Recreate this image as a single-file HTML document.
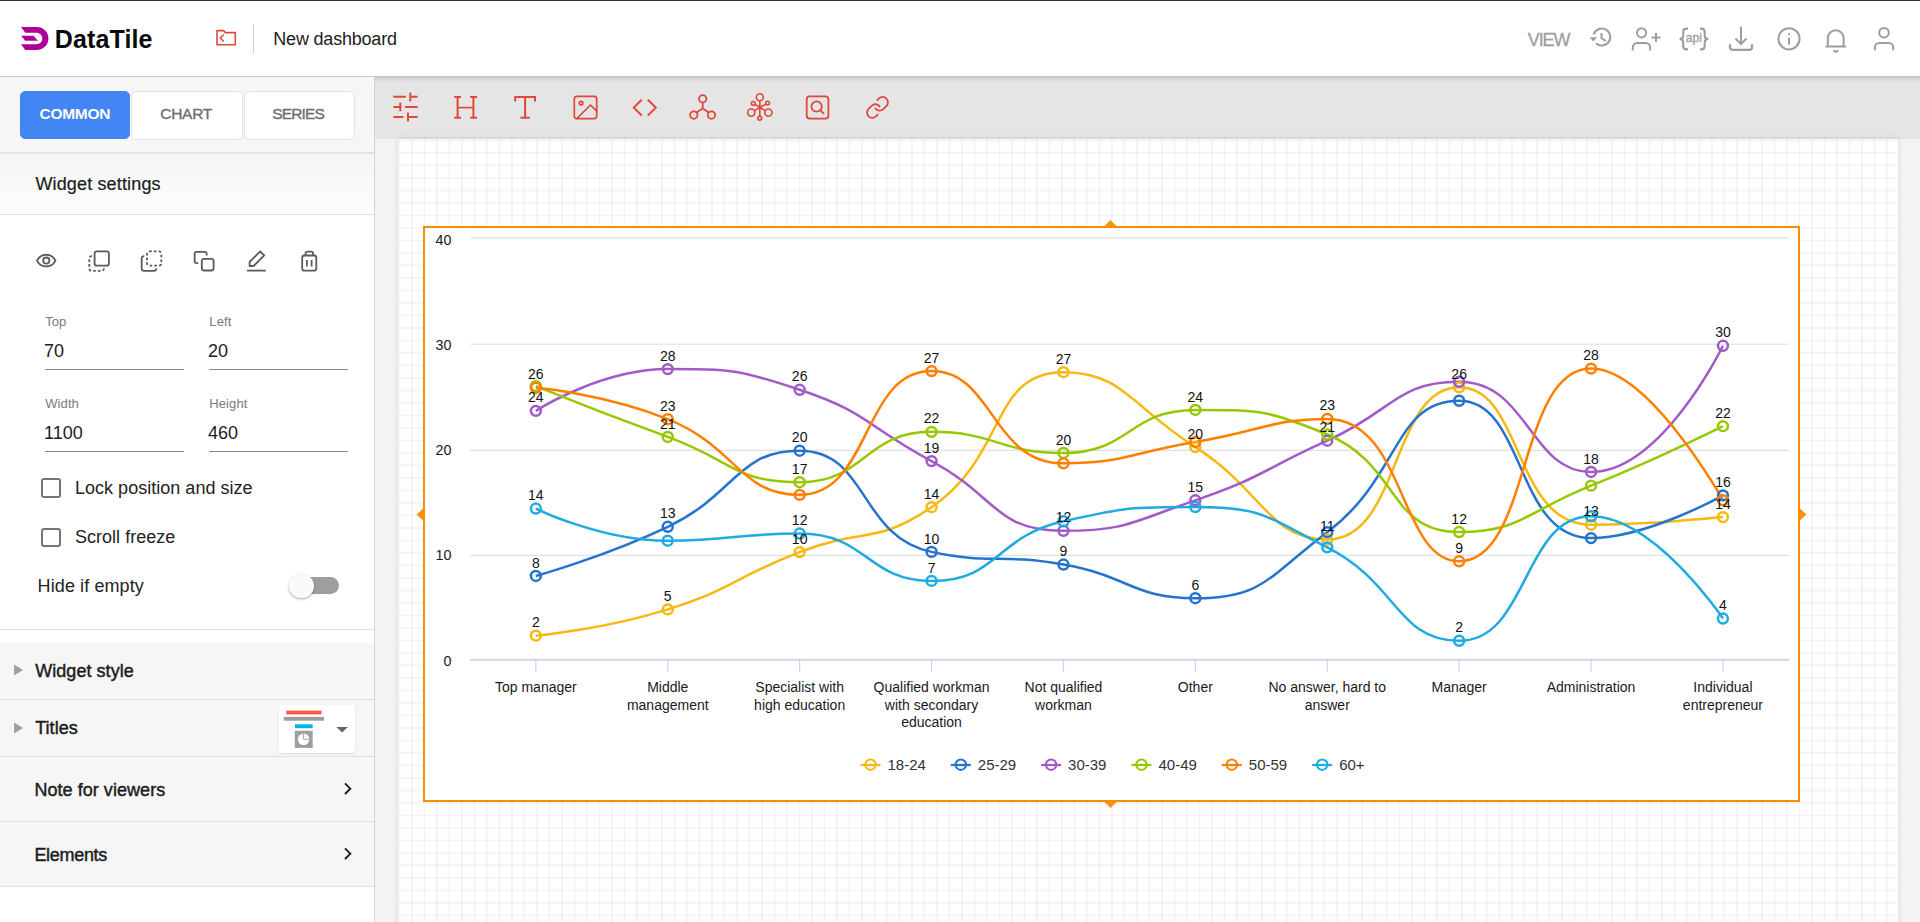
<!DOCTYPE html>
<html><head><meta charset="utf-8"><title>DataTile</title><style>
*{box-sizing:border-box;margin:0;padding:0}
html,body{width:1920px;height:922px;overflow:hidden;background:#fff;font-family:"Liberation Sans",sans-serif}
.t{position:absolute;white-space:nowrap;line-height:1.15;z-index:6}
.btn{position:absolute;border:1px solid #e2e2e2;border-radius:5px;background:#fff;font-size:15px;text-align:center;line-height:46px;z-index:4}
svg text{font-family:"Liberation Sans",sans-serif}
.al{font-size:14.3px;fill:#1a1a1a}
.dl{font-size:14px;fill:#111}
.cl{font-size:14px;fill:#1a1a1a}
.lg{font-size:15px;fill:#333}
</style></head><body>

<div style="position:absolute;left:0;top:0;width:1920px;height:1px;background:#323332;z-index:5"></div>
<div id="hdr" style="position:absolute;left:0;top:1px;width:1920px;height:76px;background:#fff;border-bottom:1px solid #c4c4c4;z-index:4"></div>
<svg style="position:absolute;left:0;top:0;z-index:6" width="60" height="60" viewBox="0 0 60 60">
<path fill="#ae0094" d="M21 26.9H36.85A11.55 11.55 0 0 1 36.85 50H25.3L21 44.2H36.8A5.78 5.78 0 0 0 36.8 32.65H25.3Z"/>
<path fill="#ae0094" d="M21 35.7H33.5L37.9 40.85H25.3Z"/>
</svg>
<div class="t" style="left:54.8px;top:24.73px;font-size:25px;color:#0a0a0a;font-weight:bold;letter-spacing:0.12px">DataTile</div>
<svg style="position:absolute;left:210px;top:24px;z-index:6" width="32" height="28" viewBox="210 24 32 28">
<path fill="none" stroke="#e0483a" stroke-width="1.6" stroke-linejoin="round" d="M217 30.6H223.5L225.5 32.6H235.3V44.8H217Z"/>
<path fill="none" stroke="#e0483a" stroke-width="1.5" d="M223.8 34.5L220.3 38L223.8 41.5"/>
</svg>
<div style="position:absolute;left:253px;top:24px;width:1px;height:30px;background:#d0d0d0;z-index:6"></div>
<div class="t" style="left:273.3px;top:28.75px;font-size:18px;color:#222;font-weight:normal;letter-spacing:-0.2px">New dashboard</div>
<div class="t" style="left:1527.8px;top:29.75px;font-size:18px;color:#9e9e9e;font-weight:normal;letter-spacing:-1.1px;-webkit-text-stroke:0.3px #a0a0a0">VIEW</div>
<svg style="position:absolute;left:1580px;top:20px;z-index:6" width="330" height="40" viewBox="1580 20 330 40" fill="none" stroke="#9e9e9e" stroke-width="2">
<!-- history -->
<path d="M1593.7 34.4A8.5 8.5 0 1 1 1596 43.3"/>
<path fill="#9e9e9e" stroke="none" d="M1589.5 37.2H1597.2L1593.3 41.5Z"/>
<path d="M1601.5 33V38.3L1605.7 40.8"/>
<!-- person add -->
<circle cx="1641.6" cy="32.8" r="4.6"/>
<path d="M1632.8 50.6V47.5A4.5 4.5 0 0 1 1637.3 43H1645.6A4.5 4.5 0 0 1 1650.1 47.5V50.6"/>
<path d="M1651.5 37.5H1660.5M1656 33V42"/>
<!-- api -->
<path stroke-width="2.1" d="M1688 28.6H1686.6C1684.2 28.6 1683.2 29.8 1683.2 32V35.8C1683.2 38 1682 39 1679.6 39C1682 39 1683.2 40 1683.2 42.2V46.2C1683.2 48.4 1684.2 49.4 1686.6 49.4H1688"/>
<path stroke-width="2.1" d="M1699.9 28.6H1701.3C1703.7 28.6 1704.7 29.8 1704.7 32V35.8C1704.7 38 1705.9 39 1708.3 39C1705.9 39 1704.7 40 1704.7 42.2V46.2C1704.7 48.4 1703.7 49.4 1701.3 49.4H1699.9"/>
<text x="1685.8" y="41.8" fill="#9e9e9e" stroke="#9e9e9e" stroke-width="0.35" textLength="16" lengthAdjust="spacingAndGlyphs" style="font:13.2px 'Liberation Sans'">api</text>
<!-- download -->
<path d="M1741 26.4V43.8M1735.5 38.5L1741 44L1746.5 38.5"/>
<path stroke-width="2.3" d="M1730 44.2V47.4A2.4 2.4 0 0 0 1732.4 49.8H1749.6A2.4 2.4 0 0 0 1752 47.4V44.2"/>
<!-- info -->
<circle cx="1789" cy="38.8" r="10.6"/>
<path d="M1789 37.8V44.6M1789 33.2V35"/>
<!-- bell -->
<path d="M1825.5 46.5H1846M1827.8 46.5V38A7.9 7.9 0 0 1 1843.6 38V46.5"/>
<path fill="#9e9e9e" stroke="none" d="M1832.9 50.3H1838.8A2.95 2.4 0 0 1 1832.9 50.3Z"/>
<!-- person -->
<circle cx="1884" cy="32.7" r="4.8"/>
<path d="M1874.9 50.2V47.3A4.4 4.4 0 0 1 1879.3 42.9H1888.8A4.4 4.4 0 0 1 1893.2 47.3V50.2"/>
</svg>

<div style="position:absolute;left:0;top:77px;width:375px;height:845px;background:#fff;border-right:1px solid #d4d4d4;z-index:3"></div>
<div style="position:absolute;left:0;top:77px;width:374px;height:77px;background:#f6f6f6;border-bottom:2px solid #e4e4e4;z-index:3"></div>
<div class="btn" style="left:20px;top:91px;width:110px;height:48px;background:#4285f4;border-color:#4285f4"></div>
<div class="btn" style="left:130.5px;top:90.5px;width:112px;height:49px"></div>
<div class="btn" style="left:243.5px;top:90.5px;width:111px;height:49px"></div>
<div class="t" style="left:39.6px;top:104.69px;font-size:15.5px;color:#fff;font-weight:bold;letter-spacing:-0.3px">COMMON</div>
<div class="t" style="left:160.2px;top:104.69px;font-size:15.5px;color:#6e6e6e;font-weight:normal;letter-spacing:-0.25px;-webkit-text-stroke:0.35px #6e6e6e">CHART</div>
<div class="t" style="left:272.3px;top:104.69px;font-size:15.5px;color:#6e6e6e;font-weight:normal;letter-spacing:-0.85px;-webkit-text-stroke:0.35px #6e6e6e">SERIES</div>
<div style="position:absolute;left:0;top:154px;width:374px;height:61px;background:linear-gradient(#f5f5f5,#fdfdfd);border-bottom:1px solid #e0e0e0;z-index:3"></div>
<div class="t" style="left:35.4px;top:173.75px;font-size:18px;color:#1d1d1d;font-weight:normal;letter-spacing:0.15px;-webkit-text-stroke:0.2px #1d1d1d">Widget settings</div>
<svg style="position:absolute;left:0;top:240px;z-index:4" width="340" height="40" viewBox="0 240 340 40" fill="none" stroke="#5a5a5a" stroke-width="1.8">
<path d="M37 260.6C41 252.8 51.5 252.8 55.5 260.6C51.5 268.4 41 268.4 37 260.6Z"/>
<circle cx="46.3" cy="260.6" r="3.1"/>
<rect x="94.6" y="251.4" width="14.3" height="14.3" rx="2.2"/>
<path stroke-dasharray="2.6 2.1" d="M91.9 256.2A2.2 2.2 0 0 0 89.3 258.4V268.6A2.2 2.2 0 0 0 91.5 270.8H101.7A2.2 2.2 0 0 0 103.9 268.4"/>
<rect x="147" y="251.4" width="14.3" height="14.3" rx="2.2" stroke-dasharray="2.6 2.1"/>
<path d="M144.3 256.2A2.2 2.2 0 0 0 141.7 258.4V268.6A2.2 2.2 0 0 0 143.9 270.8H154.1A2.2 2.2 0 0 0 156.3 268.4"/>
<rect x="201.8" y="258.8" width="11.8" height="11.7" rx="2.2"/>
<path d="M206.7 255.5V253.8A2 2 0 0 0 204.7 251.8H196.65A2 2 0 0 0 194.65 253.8V261.1A2 2 0 0 0 196.65 263.1H198.2"/>
<path stroke-linejoin="round" d="M249.6 266L249.6 262L260.2 251.4L264.2 255.4L253.6 266Z"/>
<path d="M247 270.6H265.8"/>
<rect x="302.2" y="255.5" width="14.1" height="15.1" rx="2.2"/>
<path d="M305.5 255.5V253.7A2 2 0 0 1 307.5 251.7H311.1A2 2 0 0 1 313.1 253.7V255.5M306.9 259.9V266.4M311.6 259.9V266.4"/>
</svg>
<div class="t" style="left:45.2px;top:315.12px;font-size:13px;color:#7a7a7a;font-weight:normal;letter-spacing:0.1px">Top</div><div class="t" style="left:44.0px;top:340.75px;font-size:18px;color:#212121;font-weight:normal;">70</div><div style="position:absolute;left:44.900000000000006px;top:368.7px;width:139px;height:1px;background:#8a8a8a;z-index:4"></div>
<div class="t" style="left:209.3px;top:315.12px;font-size:13px;color:#7a7a7a;font-weight:normal;letter-spacing:0.1px">Left</div><div class="t" style="left:208.10000000000002px;top:340.75px;font-size:18px;color:#212121;font-weight:normal;">20</div><div style="position:absolute;left:209.0px;top:368.7px;width:139px;height:1px;background:#8a8a8a;z-index:4"></div>
<div class="t" style="left:45.2px;top:397.12px;font-size:13px;color:#7a7a7a;font-weight:normal;letter-spacing:0.1px">Width</div><div class="t" style="left:44.0px;top:422.75px;font-size:18px;color:#212121;font-weight:normal;">1100</div><div style="position:absolute;left:44.900000000000006px;top:450.7px;width:139px;height:1px;background:#8a8a8a;z-index:4"></div>
<div class="t" style="left:209.3px;top:397.12px;font-size:13px;color:#7a7a7a;font-weight:normal;letter-spacing:0.1px">Height</div><div class="t" style="left:208.10000000000002px;top:422.75px;font-size:18px;color:#212121;font-weight:normal;">460</div><div style="position:absolute;left:209.0px;top:450.7px;width:139px;height:1px;background:#8a8a8a;z-index:4"></div>
<div style="position:absolute;left:41.4px;top:478.2px;width:19.5px;height:19.5px;border:2px solid #757575;border-radius:3px;z-index:4"></div>
<div class="t" style="left:75px;top:477.75px;font-size:18px;color:#222;font-weight:normal;letter-spacing:0.02px">Lock position and size</div>
<div style="position:absolute;left:41.4px;top:527.6px;width:19.5px;height:19.5px;border:2px solid #757575;border-radius:3px;z-index:4"></div>
<div class="t" style="left:75px;top:526.75px;font-size:18px;color:#222;font-weight:normal;letter-spacing:0.02px">Scroll freeze</div>
<div class="t" style="left:37.6px;top:575.75px;font-size:18px;color:#222;font-weight:normal;letter-spacing:0.1px">Hide if empty</div>
<div style="position:absolute;left:299px;top:577.2px;width:40px;height:16.7px;border-radius:8.4px;background:#9e9e9e;z-index:4"></div>
<div style="position:absolute;left:288.9px;top:573.6px;width:24.7px;height:24.7px;border-radius:50%;background:#fafafa;box-shadow:0 1px 2.5px rgba(0,0,0,.35);z-index:4"></div>
<div style="position:absolute;left:0;top:629px;width:374px;height:1px;background:#e0e0e0;z-index:4"></div>
<div style="position:absolute;left:0;top:643px;width:374px;height:57px;background:#f6f6f6;border-bottom:1px solid #e0e0e0;z-index:3"></div>
<div class="t" style="left:35.2px;top:660.75px;font-size:18px;color:#1d1d1d;font-weight:normal;letter-spacing:0.05px;-webkit-text-stroke:0.45px #1d1d1d">Widget style</div>
<svg style="position:absolute;left:10px;top:662.1px;z-index:4" width="20" height="16"><path d="M4.1 2.5L13 8L4.1 13.5Z" fill="#9e9e9e"/></svg>
<div style="position:absolute;left:0;top:700px;width:374px;height:57px;background:#f6f6f6;border-bottom:1px solid #e0e0e0;z-index:3"></div>
<div class="t" style="left:35.2px;top:717.75px;font-size:18px;color:#1d1d1d;font-weight:normal;letter-spacing:0.05px;-webkit-text-stroke:0.45px #1d1d1d">Titles</div>
<svg style="position:absolute;left:10px;top:720.3px;z-index:4" width="20" height="16"><path d="M4.1 2.5L13 8L4.1 13.5Z" fill="#9e9e9e"/></svg>
<div style="position:absolute;left:0;top:757px;width:374px;height:65px;background:#f6f6f6;border-bottom:1px solid #e0e0e0;z-index:3"></div>
<div class="t" style="left:34.4px;top:779.75px;font-size:18px;color:#1d1d1d;font-weight:normal;letter-spacing:0.05px;-webkit-text-stroke:0.45px #1d1d1d">Note for viewers</div>
<svg style="position:absolute;left:337.8px;top:778.7px;z-index:4" width="20" height="20"><path d="M7 4.4L12.3 9.7L7 15" fill="none" stroke="#1e1e1e" stroke-width="1.9"/></svg>
<div style="position:absolute;left:0;top:822px;width:374px;height:65px;background:#f6f6f6;border-bottom:1px solid #e0e0e0;z-index:3"></div>
<div class="t" style="left:34.4px;top:844.75px;font-size:18px;color:#1d1d1d;font-weight:normal;letter-spacing:-0.3px;-webkit-text-stroke:0.45px #1d1d1d">Elements</div>
<svg style="position:absolute;left:337.8px;top:843.5px;z-index:4" width="20" height="20"><path d="M7 4.4L12.3 9.7L7 15" fill="none" stroke="#1e1e1e" stroke-width="1.9"/></svg>
<div style="position:absolute;left:278.7px;top:705.1px;width:76px;height:48.3px;background:#fff;border-radius:3px;box-shadow:0 1px 2px rgba(0,0,0,.12);z-index:4"></div>
<svg style="position:absolute;left:278px;top:704px;z-index:5" width="78" height="50" viewBox="278 704 78 50">
<rect x="286.3" y="710.6" width="35.2" height="3.8" fill="#fd5a45"/>
<rect x="283.8" y="716.9" width="40.2" height="3.8" fill="#9e9e9e"/>
<rect x="295" y="724.3" width="17.7" height="3.9" fill="#00b6e5"/>
<rect x="294.8" y="730.8" width="17.9" height="17.1" fill="#9e9e9e"/>
<circle cx="303.6" cy="739.3" r="5.8" fill="#fff"/>
<path d="M303.6 739.3V733.4M303.6 739.3H309.5" stroke="#9e9e9e" stroke-width="0.9" fill="none"/>
<path d="M336.4 727H347.9L342.15 732.6Z" fill="#666"/>
</svg>
<div style="position:absolute;left:375px;top:77px;width:1545px;height:62px;background:linear-gradient(#cbcbcb 0px,#d6d6d6 2px,#e0e0e0 4px,#e5e5e5 6px);z-index:1"></div>
<div style="position:absolute;left:375px;top:139px;width:1545px;height:783px;background:#f3f3f3;z-index:1"></div>
<div id="canvas" style="position:absolute;left:398px;top:139px;width:1500px;height:800px;background-color:#fff;background-image:linear-gradient(90deg,rgba(0,0,0,.041) 2px,transparent 2px),linear-gradient(rgba(0,0,0,.041) 2px,transparent 2px);background-size:12.5px 12.5px;background-position:0.5px 0.5px;box-shadow:0 0 6px rgba(0,0,0,.12);z-index:2"></div>
<svg style="position:absolute;left:380px;top:80px;z-index:3" width="520" height="56" viewBox="380 80 520 56" fill="none" stroke="#e0483a" stroke-width="2">
<g stroke-width="2">
<path d="M393.4 96.8H405.9M409.3 96.8H417.6M410.3 92.6V101.3"/>
<path d="M393.4 107H400.3M405 107H417.6M400.3 102.6V111.3"/>
<path d="M393.4 117H403.4M408 117H417.6M408 112.6V121.3"/>
</g>
<g stroke-width="2">
<path d="M454.3 97.1H460.9M470.1 97.1H477M454.3 117.8H460.9M470.1 117.8H477M457.6 97.1V117.8M473.4 97.1V117.8"/>
<path stroke-width="1.6" d="M457.6 107.6H473.4"/>
</g>
<g stroke-width="2">
<path d="M515.2 101.5V97.1H535V101.5M525.1 97.1V117.8M520.5 117.8H529.7"/>
</g>
<g stroke-width="1.7" stroke-linecap="round" stroke-linejoin="round">
<rect x="574.3" y="96.3" width="22.4" height="22.4" rx="2.6"/>
<circle cx="581.1" cy="103.1" r="1.8"/>
<path d="M596.7 111.2L590.5 105L576.8 118.7"/>
</g>
<g stroke-width="2">
<path d="M641.7 99.7L633.8 107.6L641.7 115.5M647.9 99.7L655.8 107.6L647.9 115.5"/>
</g>
<g stroke-width="1.8">
<circle cx="702.7" cy="98.8" r="3.7"/>
<circle cx="693.8" cy="115.1" r="3.7"/>
<circle cx="711.5" cy="115.1" r="3.7"/>
<path d="M702.7 102.5V108.4L696.6 112.6M702.7 108.4L708.8 112.6"/>
</g>
<g stroke-width="1.6">
<circle cx="759.8" cy="97.3" r="3.5"/>
<circle cx="759.8" cy="118.3" r="1.9"/>
<circle cx="753.3" cy="103.4" r="1.9"/>
<circle cx="767.6" cy="103.1" r="1.9"/>
<circle cx="751.2" cy="112.6" r="3.6"/>
<circle cx="768.4" cy="112.6" r="3.6"/>
<path d="M759.8 100.8V116.4M759.8 107.3L755 104.4M759.8 107.3L765.9 104.1M759.8 107.3L754.4 110.8M759.8 107.3L765.2 110.8"/>
</g>
<g stroke-width="1.8">
<rect x="806.7" y="96.4" width="21.7" height="22.2" rx="3"/>
<circle cx="816.6" cy="106.5" r="5.2"/>
<path d="M820.4 110.3L823.9 113.9"/>
</g>
<g stroke-width="1.7" stroke-linecap="round" stroke-linejoin="round" transform="translate(864.9 94.8) scale(1.05)">
<path d="M10 13a5 5 0 0 0 7.54.54l3-3a5 5 0 0 0-7.07-7.07l-1.72 1.71"/>
<path d="M14 11a5 5 0 0 0-7.54-.54l-3 3a5 5 0 0 0 7.07 7.07l1.71-1.71"/>
</g>
</svg>
<div style="position:absolute;left:423px;top:226px;width:1377px;height:576px;border:2px solid #f88d00;background:#fff;z-index:3"></div>
<svg style="position:absolute;left:0;top:0;z-index:4" width="1920" height="922" viewBox="0 0 1920 922">
<path d="M1104.5 226L1110.5 220L1116.5 226Z M1104.5 802L1110.5 808L1116.5 802Z M423 508.5L416.5 514.5L423 520.5Z M1800 508.5L1806.5 514.5L1800 520.5Z" fill="#f7950a"/>
<line x1="470.2" y1="237.90" x2="1789.2" y2="237.90" stroke="#e0e0e0" stroke-width="1.1"/>
<line x1="470.2" y1="344.30" x2="1789.2" y2="344.30" stroke="#e0e0e0" stroke-width="1.1"/>
<line x1="470.2" y1="450.40" x2="1789.2" y2="450.40" stroke="#e0e0e0" stroke-width="1.1"/>
<line x1="470.2" y1="555.40" x2="1789.2" y2="555.40" stroke="#e0e0e0" stroke-width="1.1"/>
<text x="451.4" y="666.00" text-anchor="end" class="al">0</text>
<text x="451.4" y="560.40" text-anchor="end" class="al">10</text>
<text x="451.4" y="455.00" text-anchor="end" class="al">20</text>
<text x="451.4" y="350.00" text-anchor="end" class="al">30</text>
<text x="451.4" y="245.10" text-anchor="end" class="al">40</text>
<path d="M535.85 635.65C535.85 635.65 604.01 629.57 667.75 609.39C735.91 587.80 732.66 578.06 799.65 552.11C864.56 526.96 875.53 545.39 931.55 507.18C1007.43 455.41 990.33 372.16 1063.45 372.16C1122.23 372.16 1131.36 406.55 1195.35 447.16C1263.26 490.25 1268.64 539.56 1327.25 539.56C1400.54 539.56 1391.35 387.35 1459.15 387.35C1523.25 387.35 1513.18 524.69 1591.05 524.69C1645.08 524.69 1722.95 517.09 1722.95 517.09" fill="none" stroke="#f7b812" stroke-width="2.5" stroke-linejoin="round"/>
<path d="M535.85 575.95C535.85 575.95 604.39 556.87 667.75 526.80C736.29 494.27 736.59 450.74 799.65 450.74C868.49 450.74 858.16 536.02 931.55 551.90C990.06 564.56 998.39 553.14 1063.45 564.56C1130.29 576.29 1132.05 598.21 1195.35 598.21C1263.95 598.21 1268.95 575.81 1327.25 532.17C1400.85 477.09 1393.94 400.75 1459.15 400.75C1525.84 400.75 1514.72 538.08 1591.05 538.08C1646.62 538.08 1722.95 495.36 1722.95 495.36" fill="none" stroke="#2473cf" stroke-width="2.5" stroke-linejoin="round"/>
<path d="M535.85 410.87C535.85 410.87 600.62 369.10 667.75 369.10C732.52 369.10 737.52 369.10 799.65 389.78C869.42 412.99 865.44 425.74 931.55 461.08C997.34 496.25 994.30 530.80 1063.45 530.80C1126.20 530.80 1131.60 522.09 1195.35 500.32C1263.50 477.05 1261.24 470.39 1327.25 440.72C1393.14 411.11 1396.52 381.76 1459.15 381.76C1528.42 381.76 1529.48 471.95 1591.05 471.95C1661.38 471.95 1722.95 345.79 1722.95 345.79" fill="none" stroke="#a15ac8" stroke-width="2.5" stroke-linejoin="round"/>
<path d="M535.85 386.08C535.85 386.08 601.35 412.74 667.75 436.93C733.25 460.79 734.11 482.18 799.65 482.18C866.01 482.18 863.78 431.86 931.55 431.86C995.68 431.86 998.75 452.96 1063.45 452.96C1130.65 452.96 1128.29 409.92 1195.35 409.92C1260.19 409.92 1267.91 409.92 1327.25 434.50C1399.81 464.55 1387.94 532.07 1459.15 532.07C1519.84 532.07 1526.23 511.68 1591.05 485.66C1658.13 458.73 1722.95 426.17 1722.95 426.17" fill="none" stroke="#96c800" stroke-width="2.5" stroke-linejoin="round"/>
<path d="M535.85 387.77C535.85 387.77 605.57 393.97 667.75 419.21C737.47 447.50 739.41 494.83 799.65 494.83C871.31 494.83 861.76 371.11 931.55 371.11C993.66 371.11 991.38 463.30 1063.45 463.30C1123.28 463.30 1129.47 453.08 1195.35 441.99C1261.37 430.88 1273.40 418.89 1327.25 418.89C1405.30 418.89 1399.28 561.29 1459.15 561.29C1531.18 561.29 1517.69 368.58 1591.05 368.58C1649.59 368.58 1722.95 500.21 1722.95 500.21" fill="none" stroke="#ff8000" stroke-width="2.5" stroke-linejoin="round"/>
<path d="M535.85 508.55C535.85 508.55 600.90 540.72 667.75 540.72C732.80 540.72 735.65 533.55 799.65 533.55C867.55 533.55 866.66 580.91 931.55 580.91C998.56 580.91 994.63 536.85 1063.45 521.31C1126.53 507.07 1130.68 507.07 1195.35 507.07C1262.58 507.07 1266.53 516.58 1327.25 547.36C1398.43 583.45 1397.00 640.82 1459.15 640.82C1528.90 640.82 1522.36 516.25 1591.05 516.25C1654.26 516.25 1722.95 618.56 1722.95 618.56" fill="none" stroke="#20aae2" stroke-width="2.5" stroke-linejoin="round"/>
<circle cx="535.85" cy="635.65" r="4.95" fill="none" stroke="#f7b812" stroke-width="2.5"/>
<circle cx="667.75" cy="609.39" r="4.95" fill="none" stroke="#f7b812" stroke-width="2.5"/>
<circle cx="799.65" cy="552.11" r="4.95" fill="none" stroke="#f7b812" stroke-width="2.5"/>
<circle cx="931.55" cy="507.18" r="4.95" fill="none" stroke="#f7b812" stroke-width="2.5"/>
<circle cx="1063.45" cy="372.16" r="4.95" fill="none" stroke="#f7b812" stroke-width="2.5"/>
<circle cx="1195.35" cy="447.16" r="4.95" fill="none" stroke="#f7b812" stroke-width="2.5"/>
<circle cx="1327.25" cy="539.56" r="4.95" fill="none" stroke="#f7b812" stroke-width="2.5"/>
<circle cx="1459.15" cy="387.35" r="4.95" fill="none" stroke="#f7b812" stroke-width="2.5"/>
<circle cx="1591.05" cy="524.69" r="4.95" fill="none" stroke="#f7b812" stroke-width="2.5"/>
<circle cx="1722.95" cy="517.09" r="4.95" fill="none" stroke="#f7b812" stroke-width="2.5"/>
<circle cx="535.85" cy="575.95" r="4.95" fill="none" stroke="#2473cf" stroke-width="2.5"/>
<circle cx="667.75" cy="526.80" r="4.95" fill="none" stroke="#2473cf" stroke-width="2.5"/>
<circle cx="799.65" cy="450.74" r="4.95" fill="none" stroke="#2473cf" stroke-width="2.5"/>
<circle cx="931.55" cy="551.90" r="4.95" fill="none" stroke="#2473cf" stroke-width="2.5"/>
<circle cx="1063.45" cy="564.56" r="4.95" fill="none" stroke="#2473cf" stroke-width="2.5"/>
<circle cx="1195.35" cy="598.21" r="4.95" fill="none" stroke="#2473cf" stroke-width="2.5"/>
<circle cx="1327.25" cy="532.17" r="4.95" fill="none" stroke="#2473cf" stroke-width="2.5"/>
<circle cx="1459.15" cy="400.75" r="4.95" fill="none" stroke="#2473cf" stroke-width="2.5"/>
<circle cx="1591.05" cy="538.08" r="4.95" fill="none" stroke="#2473cf" stroke-width="2.5"/>
<circle cx="1722.95" cy="495.36" r="4.95" fill="none" stroke="#2473cf" stroke-width="2.5"/>
<circle cx="535.85" cy="410.87" r="4.95" fill="none" stroke="#a15ac8" stroke-width="2.5"/>
<circle cx="667.75" cy="369.10" r="4.95" fill="none" stroke="#a15ac8" stroke-width="2.5"/>
<circle cx="799.65" cy="389.78" r="4.95" fill="none" stroke="#a15ac8" stroke-width="2.5"/>
<circle cx="931.55" cy="461.08" r="4.95" fill="none" stroke="#a15ac8" stroke-width="2.5"/>
<circle cx="1063.45" cy="530.80" r="4.95" fill="none" stroke="#a15ac8" stroke-width="2.5"/>
<circle cx="1195.35" cy="500.32" r="4.95" fill="none" stroke="#a15ac8" stroke-width="2.5"/>
<circle cx="1327.25" cy="440.72" r="4.95" fill="none" stroke="#a15ac8" stroke-width="2.5"/>
<circle cx="1459.15" cy="381.76" r="4.95" fill="none" stroke="#a15ac8" stroke-width="2.5"/>
<circle cx="1591.05" cy="471.95" r="4.95" fill="none" stroke="#a15ac8" stroke-width="2.5"/>
<circle cx="1722.95" cy="345.79" r="4.95" fill="none" stroke="#a15ac8" stroke-width="2.5"/>
<circle cx="535.85" cy="386.08" r="4.95" fill="none" stroke="#96c800" stroke-width="2.5"/>
<circle cx="667.75" cy="436.93" r="4.95" fill="none" stroke="#96c800" stroke-width="2.5"/>
<circle cx="799.65" cy="482.18" r="4.95" fill="none" stroke="#96c800" stroke-width="2.5"/>
<circle cx="931.55" cy="431.86" r="4.95" fill="none" stroke="#96c800" stroke-width="2.5"/>
<circle cx="1063.45" cy="452.96" r="4.95" fill="none" stroke="#96c800" stroke-width="2.5"/>
<circle cx="1195.35" cy="409.92" r="4.95" fill="none" stroke="#96c800" stroke-width="2.5"/>
<circle cx="1327.25" cy="434.50" r="4.95" fill="none" stroke="#96c800" stroke-width="2.5"/>
<circle cx="1459.15" cy="532.07" r="4.95" fill="none" stroke="#96c800" stroke-width="2.5"/>
<circle cx="1591.05" cy="485.66" r="4.95" fill="none" stroke="#96c800" stroke-width="2.5"/>
<circle cx="1722.95" cy="426.17" r="4.95" fill="none" stroke="#96c800" stroke-width="2.5"/>
<circle cx="535.85" cy="387.77" r="4.95" fill="none" stroke="#ff8000" stroke-width="2.5"/>
<circle cx="667.75" cy="419.21" r="4.95" fill="none" stroke="#ff8000" stroke-width="2.5"/>
<circle cx="799.65" cy="494.83" r="4.95" fill="none" stroke="#ff8000" stroke-width="2.5"/>
<circle cx="931.55" cy="371.11" r="4.95" fill="none" stroke="#ff8000" stroke-width="2.5"/>
<circle cx="1063.45" cy="463.30" r="4.95" fill="none" stroke="#ff8000" stroke-width="2.5"/>
<circle cx="1195.35" cy="441.99" r="4.95" fill="none" stroke="#ff8000" stroke-width="2.5"/>
<circle cx="1327.25" cy="418.89" r="4.95" fill="none" stroke="#ff8000" stroke-width="2.5"/>
<circle cx="1459.15" cy="561.29" r="4.95" fill="none" stroke="#ff8000" stroke-width="2.5"/>
<circle cx="1591.05" cy="368.58" r="4.95" fill="none" stroke="#ff8000" stroke-width="2.5"/>
<circle cx="1722.95" cy="500.21" r="4.95" fill="none" stroke="#ff8000" stroke-width="2.5"/>
<circle cx="535.85" cy="508.55" r="4.95" fill="none" stroke="#20aae2" stroke-width="2.5"/>
<circle cx="667.75" cy="540.72" r="4.95" fill="none" stroke="#20aae2" stroke-width="2.5"/>
<circle cx="799.65" cy="533.55" r="4.95" fill="none" stroke="#20aae2" stroke-width="2.5"/>
<circle cx="931.55" cy="580.91" r="4.95" fill="none" stroke="#20aae2" stroke-width="2.5"/>
<circle cx="1063.45" cy="521.31" r="4.95" fill="none" stroke="#20aae2" stroke-width="2.5"/>
<circle cx="1195.35" cy="507.07" r="4.95" fill="none" stroke="#20aae2" stroke-width="2.5"/>
<circle cx="1327.25" cy="547.36" r="4.95" fill="none" stroke="#20aae2" stroke-width="2.5"/>
<circle cx="1459.15" cy="640.82" r="4.95" fill="none" stroke="#20aae2" stroke-width="2.5"/>
<circle cx="1591.05" cy="516.25" r="4.95" fill="none" stroke="#20aae2" stroke-width="2.5"/>
<circle cx="1722.95" cy="618.56" r="4.95" fill="none" stroke="#20aae2" stroke-width="2.5"/>
<line x1="470.2" y1="659.70" x2="1789.2" y2="659.70" stroke="#ccd6eb" stroke-width="2"/>
<line x1="535.85" y1="659.70" x2="535.85" y2="672" stroke="#ccd6eb" stroke-width="1.25"/>
<line x1="667.75" y1="659.70" x2="667.75" y2="672" stroke="#ccd6eb" stroke-width="1.25"/>
<line x1="799.65" y1="659.70" x2="799.65" y2="672" stroke="#ccd6eb" stroke-width="1.25"/>
<line x1="931.55" y1="659.70" x2="931.55" y2="672" stroke="#ccd6eb" stroke-width="1.25"/>
<line x1="1063.45" y1="659.70" x2="1063.45" y2="672" stroke="#ccd6eb" stroke-width="1.25"/>
<line x1="1195.35" y1="659.70" x2="1195.35" y2="672" stroke="#ccd6eb" stroke-width="1.25"/>
<line x1="1327.25" y1="659.70" x2="1327.25" y2="672" stroke="#ccd6eb" stroke-width="1.25"/>
<line x1="1459.15" y1="659.70" x2="1459.15" y2="672" stroke="#ccd6eb" stroke-width="1.25"/>
<line x1="1591.05" y1="659.70" x2="1591.05" y2="672" stroke="#ccd6eb" stroke-width="1.25"/>
<line x1="1722.95" y1="659.70" x2="1722.95" y2="672" stroke="#ccd6eb" stroke-width="1.25"/>
<text x="535.85" y="627.25" text-anchor="middle" class="dl">2</text>
<text x="667.75" y="600.99" text-anchor="middle" class="dl">5</text>
<text x="799.65" y="543.71" text-anchor="middle" class="dl">10</text>
<text x="931.55" y="498.78" text-anchor="middle" class="dl">14</text>
<text x="1063.45" y="363.76" text-anchor="middle" class="dl">27</text>
<text x="1195.35" y="438.76" text-anchor="middle" class="dl">20</text>
<text x="1327.25" y="531.16" text-anchor="middle" class="dl">11</text>
<text x="1459.15" y="378.95" text-anchor="middle" class="dl">26</text>
<text x="1591.05" y="516.29" text-anchor="middle" class="dl">13</text>
<text x="1722.95" y="508.69" text-anchor="middle" class="dl">14</text>
<text x="535.85" y="567.55" text-anchor="middle" class="dl">8</text>
<text x="667.75" y="518.40" text-anchor="middle" class="dl">13</text>
<text x="799.65" y="442.34" text-anchor="middle" class="dl">20</text>
<text x="931.55" y="543.50" text-anchor="middle" class="dl">10</text>
<text x="1063.45" y="556.16" text-anchor="middle" class="dl">9</text>
<text x="1195.35" y="589.81" text-anchor="middle" class="dl">6</text>
<text x="1722.95" y="486.96" text-anchor="middle" class="dl">16</text>
<text x="535.85" y="402.47" text-anchor="middle" class="dl">24</text>
<text x="667.75" y="360.70" text-anchor="middle" class="dl">28</text>
<text x="799.65" y="381.38" text-anchor="middle" class="dl">26</text>
<text x="931.55" y="452.68" text-anchor="middle" class="dl">19</text>
<text x="1063.45" y="522.40" text-anchor="middle" class="dl">12</text>
<text x="1195.35" y="491.92" text-anchor="middle" class="dl">15</text>
<text x="1327.25" y="432.32" text-anchor="middle" class="dl">21</text>
<text x="1591.05" y="463.55" text-anchor="middle" class="dl">18</text>
<text x="1722.95" y="337.39" text-anchor="middle" class="dl">30</text>
<text x="667.75" y="428.53" text-anchor="middle" class="dl">21</text>
<text x="799.65" y="473.78" text-anchor="middle" class="dl">17</text>
<text x="931.55" y="423.46" text-anchor="middle" class="dl">22</text>
<text x="1063.45" y="444.56" text-anchor="middle" class="dl">20</text>
<text x="1195.35" y="401.52" text-anchor="middle" class="dl">24</text>
<text x="1459.15" y="523.67" text-anchor="middle" class="dl">12</text>
<text x="1722.95" y="417.77" text-anchor="middle" class="dl">22</text>
<text x="535.85" y="379.37" text-anchor="middle" class="dl">26</text>
<text x="667.75" y="410.81" text-anchor="middle" class="dl">23</text>
<text x="931.55" y="362.71" text-anchor="middle" class="dl">27</text>
<text x="1327.25" y="410.49" text-anchor="middle" class="dl">23</text>
<text x="1459.15" y="552.89" text-anchor="middle" class="dl">9</text>
<text x="1591.05" y="360.18" text-anchor="middle" class="dl">28</text>
<text x="535.85" y="500.15" text-anchor="middle" class="dl">14</text>
<text x="799.65" y="525.15" text-anchor="middle" class="dl">12</text>
<text x="931.55" y="572.51" text-anchor="middle" class="dl">7</text>
<text x="1459.15" y="632.42" text-anchor="middle" class="dl">2</text>
<text x="1722.95" y="610.16" text-anchor="middle" class="dl">4</text>
<line x1="860.5" y1="765" x2="880.5" y2="765" stroke="#f7b812" stroke-width="2.2"/>
<circle cx="870.5" cy="764.7" r="5.2" fill="none" stroke="#f7b812" stroke-width="2.1"/>
<text x="887.5" y="770" class="lg">18-24</text>
<line x1="950.8" y1="765" x2="970.8" y2="765" stroke="#2473cf" stroke-width="2.2"/>
<circle cx="960.8" cy="764.7" r="5.2" fill="none" stroke="#2473cf" stroke-width="2.1"/>
<text x="977.8" y="770" class="lg">25-29</text>
<line x1="1041.1" y1="765" x2="1061.1" y2="765" stroke="#a15ac8" stroke-width="2.2"/>
<circle cx="1051.1" cy="764.7" r="5.2" fill="none" stroke="#a15ac8" stroke-width="2.1"/>
<text x="1068.1" y="770" class="lg">30-39</text>
<line x1="1131.5" y1="765" x2="1151.5" y2="765" stroke="#96c800" stroke-width="2.2"/>
<circle cx="1141.5" cy="764.7" r="5.2" fill="none" stroke="#96c800" stroke-width="2.1"/>
<text x="1158.5" y="770" class="lg">40-49</text>
<line x1="1221.8" y1="765" x2="1241.8" y2="765" stroke="#ff8000" stroke-width="2.2"/>
<circle cx="1231.8" cy="764.7" r="5.2" fill="none" stroke="#ff8000" stroke-width="2.1"/>
<text x="1248.8" y="770" class="lg">50-59</text>
<line x1="1312.2" y1="765" x2="1332.2" y2="765" stroke="#20aae2" stroke-width="2.2"/>
<circle cx="1322.2" cy="764.7" r="5.2" fill="none" stroke="#20aae2" stroke-width="2.1"/>
<text x="1339.2" y="770" class="lg">60+</text>
<text x="535.85" y="692.2" text-anchor="middle" class="cl">Top manager</text>
<text x="667.75" y="692.2" text-anchor="middle" class="cl">Middle</text>
<text x="667.75" y="710.2" text-anchor="middle" class="cl">management</text>
<text x="799.65" y="692.2" text-anchor="middle" class="cl">Specialist with</text>
<text x="799.65" y="710.2" text-anchor="middle" class="cl">high education</text>
<text x="931.55" y="692.2" text-anchor="middle" class="cl">Qualified workman</text>
<text x="931.55" y="710.2" text-anchor="middle" class="cl">with secondary</text>
<text x="931.55" y="727.2" text-anchor="middle" class="cl">education</text>
<text x="1063.45" y="692.2" text-anchor="middle" class="cl">Not qualified</text>
<text x="1063.45" y="710.2" text-anchor="middle" class="cl">workman</text>
<text x="1195.35" y="692.2" text-anchor="middle" class="cl">Other</text>
<text x="1327.25" y="692.2" text-anchor="middle" class="cl">No answer, hard to</text>
<text x="1327.25" y="710.2" text-anchor="middle" class="cl">answer</text>
<text x="1459.15" y="692.2" text-anchor="middle" class="cl">Manager</text>
<text x="1591.05" y="692.2" text-anchor="middle" class="cl">Administration</text>
<text x="1722.95" y="692.2" text-anchor="middle" class="cl">Individual</text>
<text x="1722.95" y="710.2" text-anchor="middle" class="cl">entrepreneur</text>
</svg>
</body></html>
